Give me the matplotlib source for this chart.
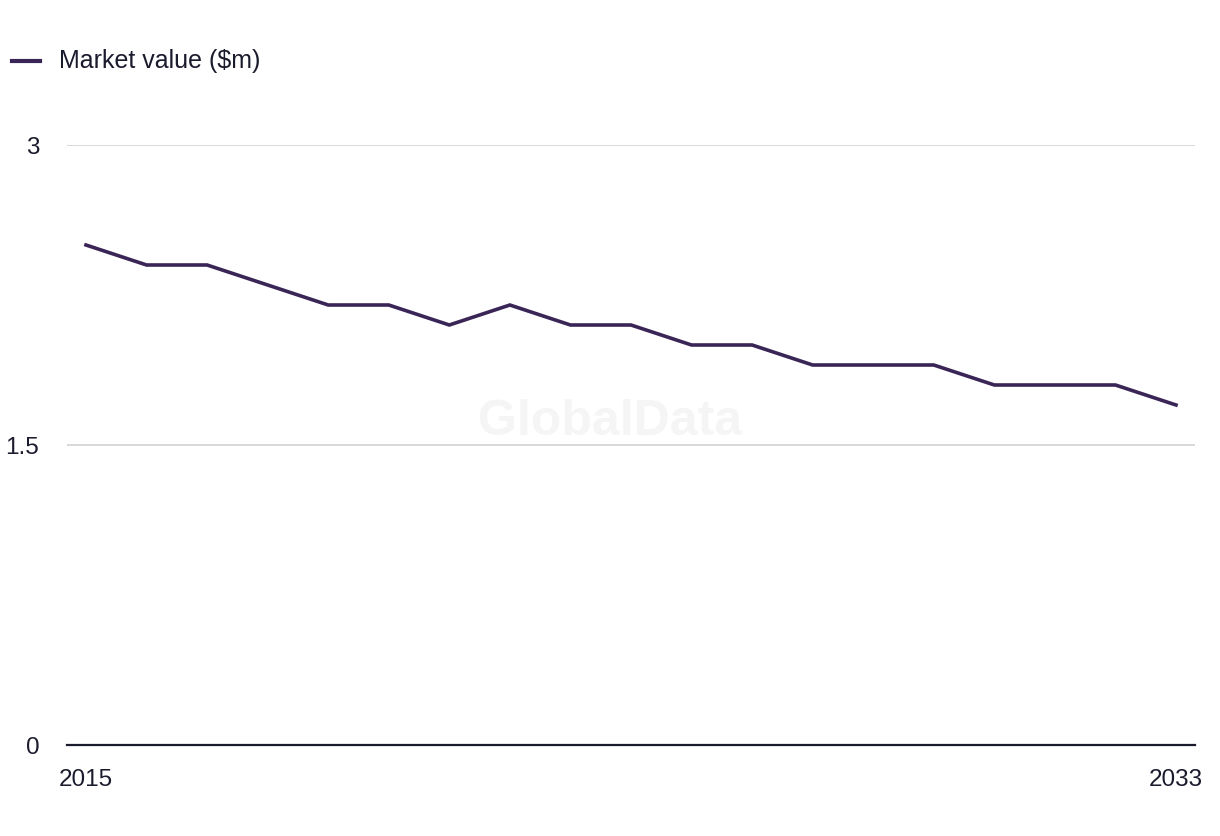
import numpy as np
import matplotlib.pyplot as plt

# Dati del grafico
years = list(range(2015, 2034))
market_value = [2.5, 2.4, 2.4, 2.3, 2.2, 2.2, 2.1, 2.2, 2.1, 2.1,
                2.0, 2.0, 1.9, 1.9, 1.9, 1.8, 1.8, 1.8, 1.7]
y_ticks = [0, 1.5, 3]
y_labels = ['0', '1.5', '3']
x_ticks = [2015, 2033]
series_name = 'Market value ($m)'

line_color = '#3a2557'
text_color = '#1b1b2e'

plt.rcParams['font.family'] = ['Liberation Sans', 'DejaVu Sans']

fig = plt.figure(figsize=(12.2, 8.36), dpi=100)
ax = fig.add_axes([67/1220, 1 - 745/836, (1195 - 67)/1220, 600/836])

ax.plot(years, market_value, color=line_color, linewidth=2.6, solid_joinstyle='miter')

step = (1176 - 86) / 18
pad = 19 / step
ax.set_xlim(2015 - pad, 2033 + pad)
ax.set_ylim(0, 3)

ax.set_yticks(y_ticks)
ax.set_yticklabels(y_labels)
ax.set_xticks(x_ticks)
ax.set_xticklabels([str(x) for x in x_ticks])
ax.tick_params(axis='both', length=0, labelsize=17.5, colors=text_color)
ax.tick_params(axis='y', pad=20)
ax.tick_params(axis='x', pad=17)

ax.grid(axis='y', color='#d6d6d6', linewidth=1.3)
ax.set_axisbelow(True)
for s in ['top', 'right', 'left']:
    ax.spines[s].set_visible(False)
ax.spines['bottom'].set_color(text_color)
ax.spines['bottom'].set_linewidth(1.6)
ax.spines['bottom'].set_zorder(3)

# Filigrana
fig.text(610/1220, 1 - 422/836, 'GlobalData', fontsize=36, fontweight='bold',
         color='#f5f5f5', ha='center', va='center', zorder=0)

# Legenda
fig.lines.append(plt.Line2D([12/1220, 40/1220], [1 - 61/836, 1 - 61/836],
                            transform=fig.transFigure, color=line_color, linewidth=3))
fig.text(59/1220, 1 - 61/836, series_name, fontsize=18, color=text_color,
         ha='left', va='center')

fig.savefig('out.png', dpi=100, facecolor='white')
